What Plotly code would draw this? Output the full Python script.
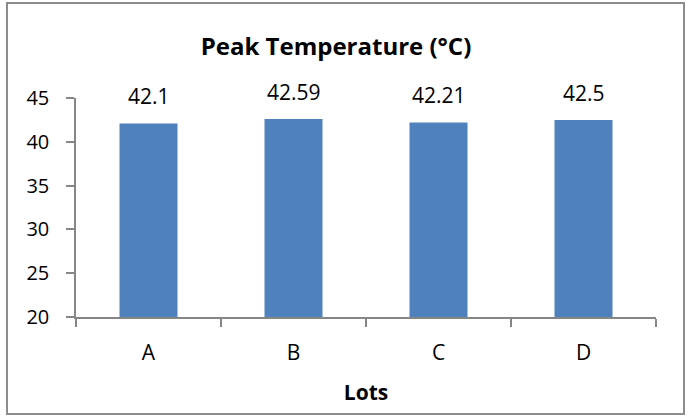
import plotly.graph_objects as go

lots = ["A", "B", "C", "D"]
peak_temp = [42.1, 42.59, 42.21, 42.5]
label_text = ["42.1", "42.59", "42.21", "42.5"]
y_ticks = [20, 25, 30, 35, 40, 45]

FONT = "Open Sans"
AX = "#868686"

fig = go.Figure()
fig.add_trace(go.Bar(x=lots, y=peak_temp, marker=dict(color="#4F81BD", line=dict(width=0)),
                     width=0.4, showlegend=False, hoverinfo="skip"))

for x, y, t in zip(lots, peak_temp, label_text):
    fig.add_annotation(x=x, y=y, text=t, showarrow=False, yanchor="bottom", yshift=11,
                       font=dict(family=FONT, size=21, color="#000000"))

fig.update_layout(
    width=689, height=416,
    margin=dict(l=76, r=33, t=98, b=99),
    paper_bgcolor="white", plot_bgcolor="white",
    title=dict(text="<b>Peak Temperature (°C)</b>", x=336/689, xanchor="center",
               y=1 - 47/416, yanchor="middle",
               font=dict(family=FONT, size=24, color="#000000")),
    font=dict(family=FONT, color="#000000"),
    bargap=0.6,
    xaxis=dict(showline=True, linecolor=AX, linewidth=1.5, ticks="outside", ticklen=8,
               tickcolor=AX, tickwidth=1.5, tickson="boundaries", showgrid=False,
               tickfont=dict(family=FONT, size=21, color="#000000"),
               ticklabelstandoff=16,
               title=dict(text="<b>Lots</b>", font=dict(family=FONT, size=21, color="#000000"),
                          standoff=20)),
    yaxis=dict(range=[20, 45], tickvals=y_ticks, showline=True, linecolor=AX, linewidth=1.5,
               ticks="outside", ticklen=8, tickcolor=AX, tickwidth=1.5, showgrid=False,
               zeroline=False, ticklabelstandoff=13,
               tickfont=dict(family=FONT, size=20, color="#000000")),
)

fig.add_shape(type="rect", xref="paper", yref="paper",
              x0=(7-76)/580, x1=(684-76)/580, y0=(317-414)/219, y1=(317-3)/219,
              line=dict(color="#8C8C8C", width=2), fillcolor="rgba(0,0,0,0)", layer="below")

fig.write_html("out.html", config={"displayModeBar": False},
               post_script="document.body.style.margin='0';")
